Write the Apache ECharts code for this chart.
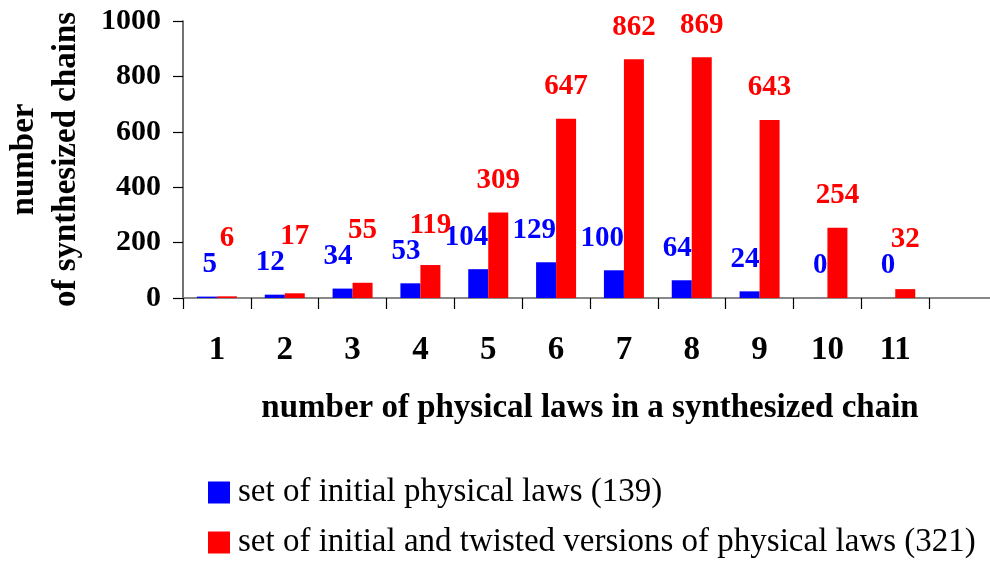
<!DOCTYPE html>
<html>
<head>
<meta charset="utf-8">
<script src="https://cdn.jsdelivr.net/npm/echarts@6/dist/echarts.min.js"></script>
<style>
  html, body { margin: 0; padding: 0; background: #fff; }
  #chart { width: 990px; height: 561px; }
</style>
</head>
<body>
<div id="chart"></div>
<script>
const categories = ['1', '2', '3', '4', '5', '6', '7', '8', '9', '10', '11', ''];
const initialLaws = [5, 12, 34, 53, 104, 129, 100, 64, 24, 0, 0, null];
const twistedLaws = [6, 17, 55, 119, 309, 647, 862, 869, 643, 254, 32, null];
const yTicks = { min: 0, max: 1000, interval: 200 };
const seriesNames = ['set of initial physical laws (139)', 'set of initial and twisted versions of physical laws (321)'];

const serif = 'Liberation Serif, Times New Roman, serif';
const chart = echarts.init(document.getElementById('chart'), null, { renderer: 'canvas' });

const LABEL_RISE = 32;      // label centre above bar top
const STACK_GAP = 26;       // red label keeps this distance above the blue label

const legendBase = {
  orient: 'vertical',
  left: 203,
  itemWidth: 22,
  itemHeight: 22,
  icon: 'rect',
  textStyle: { fontFamily: serif, fontSize: 33, color: '#000', padding: [0, 0, 0, 3] }
};

chart.setOption({
  backgroundColor: '#ffffff',
  animation: false,
  textStyle: { fontFamily: serif },
  grid: { left: 183, top: 21, width: 814, height: 277, containLabel: false, outerBoundsMode: 'none' },
  legend: [
    Object.assign({}, legendBase, { top: 471, data: [seriesNames[0]] }),
    Object.assign({}, legendBase, { top: 521, data: [seriesNames[1]] })
  ],
  xAxis: {
    type: 'category',
    data: categories,
    boundaryGap: true,
    name: 'number of physical laws in a synthesized chain',
    nameLocation: 'middle',
    nameGap: 94,
    nameTextStyle: { fontFamily: serif, fontSize: 33, fontWeight: 'bold', color: '#000' },
    axisLine: { show: true, lineStyle: { color: '#888', width: 2 } },
    axisTick: { show: true, interval: 0, length: 11, lineStyle: { color: '#000', width: 1.2 } },
    axisLabel: { interval: 0, margin: 36, fontFamily: serif, fontSize: 33, fontWeight: 'bold', color: '#000' },
    splitLine: { show: false }
  },
  yAxis: {
    type: 'value',
    min: yTicks.min,
    max: yTicks.max,
    interval: yTicks.interval,
    name: 'number\nof synthesized chains',
    nameLocation: 'middle',
    nameGap: 96,
    nameTextStyle: { fontFamily: serif, fontSize: 33, fontWeight: 'bold', color: '#000', lineHeight: 42 },
    axisLine: { show: true, lineStyle: { color: '#444', width: 1.5 } },
    axisTick: { show: true, length: 10, lineStyle: { color: '#000', width: 1.2 } },
    axisLabel: {
      margin: 22, fontFamily: serif, fontSize: 30, fontWeight: 'bold', color: '#000',
      formatter: function (v) { return String(v); }
    },
    splitLine: { show: false }
  },
  series: [
    {
      name: seriesNames[0],
      type: 'bar',
      data: initialLaws,
      barWidth: 20,
      barGap: '0%',
      itemStyle: { color: '#0000ff' },
      label: {
        show: true,
        position: ['100%', -LABEL_RISE],
        align: 'right',
        verticalAlign: 'middle',
        fontFamily: serif, fontSize: 29, fontWeight: 'bold', color: '#0000ff'
      }
    },
    {
      name: seriesNames[1],
      type: 'bar',
      data: twistedLaws,
      barWidth: 20,
      barGap: '0%',
      itemStyle: { color: '#ff0000' },
      label: {
        show: true,
        position: ['50%', -LABEL_RISE],
        align: 'center',
        verticalAlign: 'middle',
        fontFamily: serif, fontSize: 29, fontWeight: 'bold', color: '#ff0000'
      },
      labelLayout: function (params) {
        const i = params.dataIndex;
        const blue = initialLaws[i];
        if (blue == null) return {};
        let blueTop;
        try {
          blueTop = chart.convertToPixel({ seriesIndex: 0 }, [i, blue])[1];
        } catch (e) { return {}; }
        if (!isFinite(blueTop)) return {};
        const blueCentre = blueTop - LABEL_RISE;
        const ownCentre = params.rect.y - LABEL_RISE;
        return { y: Math.min(ownCentre, blueCentre - STACK_GAP) };
      }
    }
  ]
});
</script>
</body>
</html>
